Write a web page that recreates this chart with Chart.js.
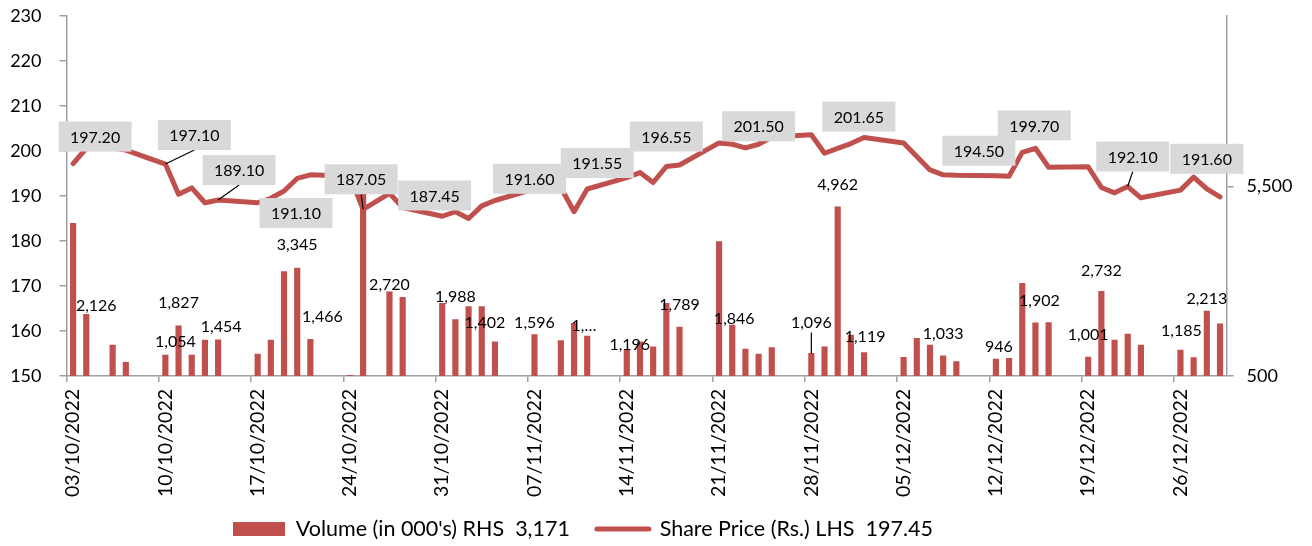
<!DOCTYPE html>
<html lang="en">
<head>
<meta charset="UTF-8">
<title>Share Price and Volume</title>
<script src="https://cdn.jsdelivr.net/npm/chart.js"></script>
<style>
  * { margin: 0; padding: 0; box-sizing: border-box; }
  body { background: #fff; }
  .wrap { width: 1312px; height: 546px; }
</style>
</head>
<body>
<div class="wrap"><canvas id="chart" width="1312" height="546"></canvas></div>
<script>
// trading days shown on the chart
const tradeDates = [
  '03/10/2022','04/10/2022','06/10/2022','07/10/2022','10/10/2022','11/10/2022','12/10/2022','13/10/2022','14/10/2022',
  '17/10/2022','18/10/2022','19/10/2022','20/10/2022','21/10/2022','24/10/2022','25/10/2022','27/10/2022','28/10/2022',
  '31/10/2022','01/11/2022','02/11/2022','03/11/2022','04/11/2022','07/11/2022','09/11/2022','10/11/2022','11/11/2022',
  '14/11/2022','15/11/2022','16/11/2022','17/11/2022','18/11/2022','21/11/2022','22/11/2022','23/11/2022','24/11/2022','25/11/2022',
  '28/11/2022','29/11/2022','30/11/2022','01/12/2022','02/12/2022','05/12/2022','06/12/2022','07/12/2022','08/12/2022','09/12/2022',
  '12/12/2022','13/12/2022','14/12/2022','15/12/2022','16/12/2022','19/12/2022','20/12/2022','21/12/2022','22/12/2022','23/12/2022',
  '26/12/2022','27/12/2022','28/12/2022','29/12/2022'
];

// share price (Rs.), left axis
const sharePrice = [
  197.20, 200.60, 200.70, 200.20, 197.10, 190.40, 191.80, 188.50, 189.10,
  188.50, 189.50, 191.10, 193.90, 194.70, 194.40, 187.05, 190.60, 187.45,
  185.50, 186.50, 185.00, 187.80, 189.00, 191.60, 191.90, 186.50, 191.55,
  194.10, 195.20, 193.00, 196.55, 196.90, 201.80, 201.50, 200.70, 201.50, 203.10,
  203.60, 199.50, 200.60, 201.65, 203.00, 201.80, 198.80, 195.80, 194.70, 194.60,
  194.50, 194.40, 199.70, 200.60, 196.40, 196.50, 191.90, 190.70, 192.10, 189.60,
  191.30, 194.20, 191.60, 189.80
];

// volume (in 000's), right axis
const volume = [
  4530, 2126, 1318, 861, 1054, 1827, 1050, 1445, 1454,
  1081, 1450, 3253, 3345, 1466, 520, 5650, 2720, 2577,
  2418, 1988, 2330, 2330, 1402, 1596, 1432, 1890, 1556,
  1196, 1400, 1273, 2418, 1789, 4045, 1846, 1213, 1081, 1247,
  1096, 1273, 4962, 1582, 1119, 993, 1494, 1318, 1033, 878,
  946, 967, 2946, 1902, 1908, 1001, 2732, 1450, 1608, 1318,
  1185, 983, 2213, 1880
];

const firstDay = '03/10/2022';
const lastDay = '29/12/2022';
const tickEvery = 7;
const priceRange = [150, 230, 10];
const volTicks = [500, 5500];
const volRange = [500, 10000];

const legendText = ["Volume (in 000's) RHS  3,171", 'Share Price (Rs.) LHS  197.45'];

// labelled points
const priceLabelDates = ['03/10/2022','10/10/2022','14/10/2022','19/10/2022','25/10/2022','28/10/2022','07/11/2022',
  '11/11/2022','17/11/2022','24/11/2022','01/12/2022','12/12/2022','14/12/2022','22/12/2022','28/12/2022'];
const volLabelDates = ['04/10/2022','10/10/2022','11/10/2022','14/10/2022','20/10/2022','21/10/2022','27/10/2022',
  '01/11/2022','04/11/2022','07/11/2022','10/11/2022','14/11/2022','18/11/2022','22/11/2022','28/11/2022','30/11/2022',
  '02/12/2022','08/12/2022','12/12/2022','15/12/2022','19/12/2022','20/12/2022','26/12/2022','28/12/2022'];
const volLabelText = { '10/11/2022': '1,\u2026' };

// label placement (pixel nudges from the point)
const priceLabelShift = [[22,-27],[29,-29],[21,-30],[12,22],[-2,-30],[32,-12],[-5,-10],[10,-26],[0,-30],[0,-18],
  [8,-27],[-17,-25],[12,-27],[5,-30],[0,-30]];
const priceLeaders = ['10/10/2022','14/10/2022','25/10/2022','22/12/2022'];
const volLabelShift = [[10,-9],[10,-13],[0,-23],[3,-13],[0,-23],[12,-23],[0,-7],[0,-23],[-10,-19],[0,-12],[10,3],
  [3,-5],[0,-22],[2,-6],[0,-31],[0,-22],[1,-16],[0,-22],[3,-12],[4,-22],[0,-22],[0,-21],[1,-19],[0,-12]];
const volLeaders = ['28/11/2022'];

const RED = '#C0504D';
const AXIS = '#A0A0A0';
const FONT = 'Lato';
const LEGEND_SIZE = 21.5;
const LEGEND_H = 42;

// build the calendar axis, one slot per day
function parseDay(s) {
  const [d, m, y] = s.split('/').map(Number);
  return Date.UTC(y, m - 1, d);
}
function fmtDay(t) {
  const dt = new Date(t);
  const dd = String(dt.getUTCDate()).padStart(2, '0');
  const mm = String(dt.getUTCMonth() + 1).padStart(2, '0');
  return dd + '/' + mm + '/' + dt.getUTCFullYear();
}
const axisDays = [];
for (let t = parseDay(firstDay); t <= parseDay(lastDay); t += 86400000) axisDays.push(fmtDay(t));

const priceSeries = axisDays.map(d => { const k = tradeDates.indexOf(d); return k < 0 ? null : sharePrice[k]; });
const volSeries = axisDays.map(d => { const k = tradeDates.indexOf(d); return k < 0 ? null : volume[k]; });

const valueLabels = {
  id: 'valueLabels',
  afterDatasetsDraw(chart) {
    const { ctx, scales: { x, y, y1 } } = chart;
    ctx.save();
    ctx.font = '16px ' + FONT;
    ctx.textAlign = 'center';
    ctx.textBaseline = 'middle';
    ctx.strokeStyle = '#000';
    ctx.lineWidth = 1.2;

    volLabelDates.forEach((d, k) => {
      const i = axisDays.indexOf(d);
      const v = volSeries[i];
      const px = x.getPixelForValue(i), py = y1.getPixelForValue(v);
      const tx = px + volLabelShift[k][0], ty = py + volLabelShift[k][1];
      if (volLeaders.includes(d)) {
        ctx.beginPath(); ctx.moveTo(px, py); ctx.lineTo(px, ty + 10); ctx.stroke();
      }
      ctx.fillStyle = '#000';
      ctx.fillText(volLabelText[d] || v.toLocaleString('en-US'), tx, ty);
    });

    priceLabelDates.forEach((d, k) => {
      const i = axisDays.indexOf(d);
      const p = priceSeries[i];
      const px = x.getPixelForValue(i), py = y.getPixelForValue(p);
      const cx = px + priceLabelShift[k][0], cy = py + priceLabelShift[k][1];
      const w = 73, h = 30;
      if (priceLeaders.includes(d)) {
        ctx.beginPath(); ctx.moveTo(px, py); ctx.lineTo(cx, cy + h / 2); ctx.stroke();
      }
      ctx.fillStyle = '#D9D9D9';
      ctx.fillRect(cx - w / 2, cy - h / 2, w, h);
      ctx.fillStyle = '#000';
      ctx.fillText(p.toFixed(2), cx, cy + 1);
    });
    ctx.restore();
  }
};

// move the legend row so it sits where the original does
const legendPlace = {
  id: 'legendPlace',
  afterLayout(chart) {
    const lg = chart.legend;
    if (!lg || !lg.lineWidths) return;
    const pad = lg.options.labels.padding;
    const start = (lg.left + pad + lg.right - lg.lineWidths[0]) / 2;
    const dx = 233 - start;
    const dy = 529 - (lg.top + pad + LEGEND_SIZE / 2);
    lg.left += dx; lg.right += dx;
    lg.top += dy; lg.bottom = chart.height;
  }
};

// y axes: keep the plot top fixed, tick padding should not push it down
function fixWidth(w) {
  return s => { s.width = w; s.paddingTop = 0; s.paddingBottom = 0; };
}

new Chart(document.getElementById('chart'), {
  type: 'bar',
  data: {
    labels: axisDays,
    datasets: [
      {
        type: 'line', label: legendText[1], data: priceSeries, yAxisID: 'y',
        borderColor: RED, backgroundColor: RED, borderWidth: 5, pointRadius: 0,
        tension: 0, spanGaps: true, borderJoinStyle: 'round', borderCapStyle: 'round', order: 0
      },
      {
        type: 'bar', label: legendText[0], data: volSeries, yAxisID: 'y1',
        backgroundColor: RED, barThickness: 5.5, order: 1
      }
    ]
  },
  options: {
    responsive: false,
    animation: false,
    layout: { padding: { top: 16, left: 0, right: 0, bottom: 0 } },
    scales: {
      x: {
        offset: true,
        grid: {
          offset: true, drawOnChartArea: false, drawTicks: true, tickLength: 6, lineWidth: 1.5,
          color: c => (c.index % tickEvery === 0 ? AXIS : 'rgba(0,0,0,0)')
        },
        border: { color: AXIS, width: 1.5 },
        ticks: {
          autoSkip: false, minRotation: 90, maxRotation: 90, padding: 7, color: '#000',
          font: { family: FONT, size: 19.5 },
          callback: (v, i) => (i % tickEvery === 0 ? axisDays[i] : '')
        },
        afterFit: s => { s.height = 546 - 376 - LEGEND_H; }
      },
      y: {
        position: 'left', min: priceRange[0], max: priceRange[1],
        ticks: { stepSize: priceRange[2], padding: 18, color: '#000', font: { family: FONT, size: 18 } },
        grid: { drawOnChartArea: false, tickLength: 7, color: AXIS, lineWidth: 1.5 },
        border: { color: AXIS, width: 1.5 },
        afterFit: fixWidth(66.5)
      },
      y1: {
        position: 'right', min: volRange[0], max: volRange[1],
        afterBuildTicks: s => { s.ticks = volTicks.map(v => ({ value: v })); },
        ticks: { padding: 13, color: '#000', font: { family: FONT, size: 18 },
          callback: v => v.toLocaleString('en-US') },
        grid: { drawOnChartArea: false, tickLength: 7, color: AXIS, lineWidth: 1.5 },
        border: { color: AXIS, width: 1.5 },
        afterFit: fixWidth(85.4)
      }
    },
    plugins: {
      tooltip: { enabled: false },
      legend: {
        position: 'bottom',
        maxHeight: LEGEND_H,
        labels: {
          usePointStyle: true, pointStyleWidth: 52, boxHeight: 14, padding: 27, color: '#000',
          font: { family: FONT, size: LEGEND_SIZE },
          generateLabels: () => [
            { text: legendText[0], fillStyle: RED, strokeStyle: RED, lineWidth: 0, pointStyle: 'rect', datasetIndex: 1, fontColor: '#000' },
            { text: legendText[1], fillStyle: RED, strokeStyle: RED, lineWidth: 5, lineCap: 'round', pointStyle: 'line', datasetIndex: 0, fontColor: '#000' }
          ]
        }
      }
    }
  },
  plugins: [valueLabels, legendPlace]
});
</script>
</body>
</html>
